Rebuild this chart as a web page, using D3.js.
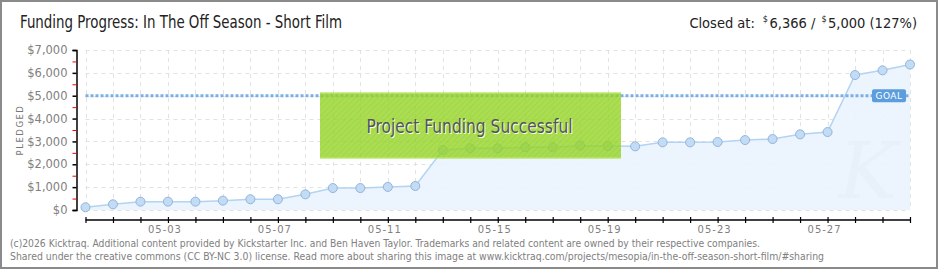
<!DOCTYPE html>
<html><head><meta charset="utf-8">
<script src="https://cdn.jsdelivr.net/npm/d3@7"></script>
<style>
html,body{margin:0;padding:0;background:#fff;}
svg{display:block;}
</style></head>
<body>
<svg id="c" width="940" height="270"></svg>
<script>
// ---- data ----
const startDate = "2026-04-30";
const dayCount = 31;
const pledged = [120, 250, 365, 365, 365, 410, 470, 470, 685, 960, 960, 1010, 1050, 2625, 2700, 2700, 2745, 2745, 2815, 2800, 2785, 2960, 2960, 2975, 3060, 3105, 3310, 3410, 5905, 6110, 6366];
const goal = 5000;
const yTickValues = [0, 1000, 2000, 3000, 4000, 5000, 6000, 7000];
const yMinorTickValues = [500, 1500, 2500, 3500, 4500, 5500, 6500];
const xLabelDays = ["05-03", "05-07", "05-11", "05-15", "05-19", "05-23", "05-27"];
const titleText = "Funding Progress: In The Off Season - Short Film";
const closedLabel = "Closed at:";
const closedValue = "6,366 /";
const goalValue = "5,000 (127%)";
const bannerText = "Project Funding Successful";
const footerLines = [
  "(c)2026 Kicktraq. Additional content provided by Kickstarter Inc. and Ben Haven Taylor. Trademarks and related content are owned by their respective companies.",
  "Shared under the creative commons (CC BY-NC 3.0) license. Read more about sharing this image at www.kicktraq.com/projects/mesopia/in-the-off-season-short-film/#sharing"
];

const parse = d3.utcParse("%Y-%m-%d");
const d0 = parse(startDate);
const dates = d3.range(dayCount).map(i => d3.utcDay.offset(d0, i));
const series = pledged.map((v, i) => ({date: dates[i], value: v}));
const fmtMD = d3.utcFormat("%m-%d");

const svg = d3.select("#c");
const titleFont = "'Liberation Sans Narrow','DejaVu Sans Condensed','Roboto',sans-serif";
const smallFont = "'DejaVu Sans',Verdana,sans-serif";

const x = d3.scaleUtc().domain([dates[0], dates[dates.length - 1]]).range([85.5, 910]);
const y = d3.scaleLinear().domain([0, 7000]).range([210, 50]);

// defs: hatch pattern
const defs = svg.append("defs");
const pat = defs.append("pattern").attr("id", "hatch").attr("width", 4).attr("height", 4)
  .attr("patternUnits", "userSpaceOnUse").attr("patternTransform", "rotate(45)");
pat.append("rect").attr("width", 4).attr("height", 4).attr("fill", "rgba(150,212,40,0.80)");
pat.append("line").attr("x1", 0).attr("y1", 0).attr("x2", 0).attr("y2", 4)
  .attr("stroke", "rgba(120,190,20,0.25)").attr("stroke-width", 1.5);

// border
svg.append("rect").attr("x", 1).attr("y", 1).attr("width", 936).attr("height", 267)
  .attr("fill", "#fff").attr("stroke", "#8a8a8a").attr("stroke-width", 2);

// title
svg.append("text").attr("x", 20).attr("y", 28).attr("font-family", titleFont)
  .attr("font-size", 17).attr("fill", "#222").attr("textLength", 322).attr("lengthAdjust", "spacingAndGlyphs")
  .text(titleText);

// closed-at header pieces, laid out sequentially from measured widths
const hdr = svg.append("g").attr("font-family", titleFont).attr("fill", "#222");
const pieces = [
  {t: closedLabel, fs: 14.5, dy: 0, gap: 8},
  {t: "$", fs: 9, dy: -6, gap: 1.5},
  {t: closedValue, fs: 14.5, dy: 0, gap: 6},
  {t: "$", fs: 9, dy: -6, gap: 1.5},
  {t: goalValue, fs: 14.5, dy: 0, gap: 0}
];
const els = pieces.map(p => hdr.append("text").attr("y", 28 + p.dy).attr("font-size", p.fs).text(p.t));
const widths = els.map(e => e.node().getComputedTextLength());
const total = d3.sum(widths) + d3.sum(pieces, p => p.gap);
let cx = 917 - total;
els.forEach((e, i) => { e.attr("x", cx); cx += widths[i] + pieces[i].gap; });

// grid
const grid = svg.append("g").attr("stroke", "#e2e2e2").attr("stroke-dasharray", "4,4").attr("stroke-width", 1);
grid.selectAll("line.v").data(dates).join("line")
  .attr("x1", d => Math.round(x(d)) + 0.5).attr("x2", d => Math.round(x(d)) + 0.5)
  .attr("y1", y(7000)).attr("y2", y(0));
grid.selectAll("line.h").data(yTickValues).join("line")
  .attr("x1", x(dates[0])).attr("x2", x(dates[dates.length - 1]))
  .attr("y1", d => Math.round(y(d)) + 0.5).attr("y2", d => Math.round(y(d)) + 0.5);

// area
const area = d3.area().x(d => x(d.date)).y0(y(0)).y1(d => y(d.value));
svg.append("path").datum(series).attr("d", area).attr("fill", "#eaf3fd").attr("opacity", 0.92);

// watermark
svg.append("text").attr("x", 868).attr("y", 198).attr("text-anchor", "middle")
  .attr("font-family", "'DejaVu Serif',serif").attr("font-style", "italic").attr("font-size", 78)
  .attr("fill", "#e2eaf4").attr("opacity", 0.3).text("K");

const line = d3.line().x(d => x(d.date)).y(d => y(d.value));
svg.append("path").datum(series).attr("d", line).attr("fill", "none")
  .attr("stroke", "#b3d3f3").attr("stroke-width", 1.5);

// goal line
svg.append("line").attr("x1", x(dates[0])).attr("x2", x(dates[dates.length - 1]))
  .attr("y1", y(goal)).attr("y2", y(goal))
  .attr("stroke", "#7cb0e4").attr("stroke-width", 3).attr("stroke-dasharray", "3,2");

// points
svg.append("g").selectAll("circle").data(series).join("circle")
  .attr("cx", d => x(d.date)).attr("cy", d => y(d.value)).attr("r", 4.5)
  .attr("fill", "#c3dcf6").attr("stroke", "#93b4d9").attr("stroke-width", 1);

// GOAL label
const gx = x(dates[dates.length - 1]) - 38, gy = y(goal) - 6.5;
svg.append("rect").attr("x", gx).attr("y", gy).attr("width", 34).attr("height", 13).attr("rx", 2)
  .attr("fill", "#5b9ddd");
svg.append("text").attr("x", gx + 17).attr("y", gy + 10).attr("text-anchor", "middle")
  .attr("font-family", smallFont).attr("font-size", 9).attr("fill", "#fff").attr("letter-spacing", 0.5)
  .text("GOAL");

// success banner
const bx0 = x(dates[0]) + (320 - 85.5), bw = 301;
svg.append("rect").attr("x", bx0).attr("y", 92.5).attr("width", bw).attr("height", 66)
  .attr("fill", "url(#hatch)");
svg.append("line").attr("x1", bx0).attr("x2", bx0 + bw).attr("y1", 93).attr("y2", 93)
  .attr("stroke", "rgba(200,240,120,0.7)");
svg.append("line").attr("x1", bx0).attr("x2", bx0 + bw).attr("y1", 158).attr("y2", 158)
  .attr("stroke", "rgba(200,240,120,0.8)");
const bt = {x: bx0 + bw / 2 - 1, y: 133};
svg.append("text").attr("x", bt.x + 1).attr("y", bt.y + 1).attr("text-anchor", "middle")
  .attr("font-family", titleFont).attr("font-size", 19).attr("fill", "#f4ffe4")
  .attr("textLength", 206).attr("lengthAdjust", "spacingAndGlyphs").text(bannerText);
svg.append("text").attr("x", bt.x).attr("y", bt.y).attr("text-anchor", "middle")
  .attr("font-family", titleFont).attr("font-size", 19).attr("fill", "#555")
  .attr("textLength", 206).attr("lengthAdjust", "spacingAndGlyphs").text(bannerText);

// y axis
const yAxis = d3.axisLeft(y).tickValues(yTickValues).tickSize(4).tickPadding(5)
  .tickFormat(d => "$" + d3.format(",")(d));
const yg = svg.append("g").attr("transform", "translate(76.5,0)").call(yAxis);
yg.select(".domain").attr("stroke", "#000").attr("stroke-width", 1.5);
yg.selectAll(".tick line").attr("stroke", "#000").attr("stroke-width", 1.5);
yg.selectAll(".tick text").attr("font-family", smallFont).attr("font-size", 11.5).attr("fill", "#808080");
const ym = d3.axisLeft(y).tickValues(yMinorTickValues).tickSize(4).tickFormat("");
const ymg = svg.append("g").attr("transform", "translate(76.5,0)").call(ym);
ymg.select(".domain").remove();
ymg.selectAll(".tick line").attr("stroke", "#e00").attr("stroke-width", 1);

svg.append("text").attr("transform", "translate(23,130) rotate(-90)").attr("text-anchor", "middle")
  .attr("font-family", smallFont).attr("font-size", 8.5).attr("fill", "#777").attr("letter-spacing", 1.5)
  .text("PLEDGED");

// x axis
const xAxis = d3.axisBottom(x).tickValues(dates).tickSize(6).tickFormat("");
const xg = svg.append("g").attr("transform", "translate(0,217)").call(xAxis);
xg.select(".domain").remove();
xg.selectAll(".tick line").attr("stroke", "#000").attr("stroke-width", 1.2);
svg.append("line").attr("x1", x(dates[0])).attr("x2", x(dates[dates.length - 1]))
  .attr("y1", 220).attr("y2", 220).attr("stroke", "#000").attr("stroke-width", 1.5);
const labelDates = dates.filter(d => xLabelDays.includes(fmtMD(d)));
svg.append("g").selectAll("text").data(labelDates).join("text")
  .attr("x", d => x(d) - 3).attr("y", 233).attr("text-anchor", "middle")
  .attr("font-family", smallFont).attr("font-size", 10).attr("fill", "#808080").attr("letter-spacing", 1)
  .text(d => fmtMD(d));

// footer
svg.append("text").attr("x", 10).attr("y", 247).attr("font-family", smallFont).attr("font-size", 10.5)
  .attr("fill", "#808080").attr("textLength", 750).attr("lengthAdjust", "spacingAndGlyphs").text(footerLines[0]);
svg.append("text").attr("x", 10).attr("y", 259.5).attr("font-family", smallFont).attr("font-size", 10.5)
  .attr("fill", "#808080").attr("textLength", 814).attr("lengthAdjust", "spacingAndGlyphs").text(footerLines[1]);
</script>
</body></html>
